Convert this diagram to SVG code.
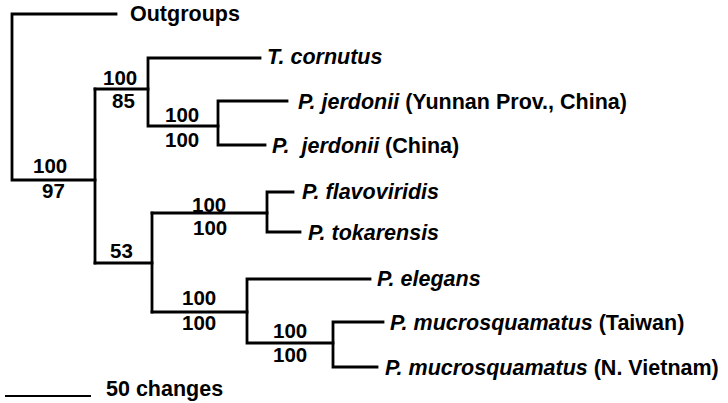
<svg xmlns="http://www.w3.org/2000/svg" width="728" height="403" viewBox="0 0 728 403">
<style>
.br{fill:none;stroke:#000;stroke-width:2.8;stroke-linecap:square;stroke-linejoin:miter}
text{font-family:"Liberation Sans",Arial,sans-serif;font-weight:bold;font-size:21.5px;fill:#000}
.sp{font-style:italic}
.n{font-size:20.5px}
</style>
<rect width="728" height="403" fill="#fff"/>
<g id="connectors">
<path class="br" d="M116,14 H12 V180 H95"/>
<path class="br" d="M95,89 V263"/>
<path class="br" d="M95,89 H148"/>
<path class="br" d="M260,58 H148 V126 H218"/>
<path class="br" d="M287,101 H218 V145 H265"/>
<path class="br" d="M95,263 H152"/>
<path class="br" d="M152,213 V312"/>
<path class="br" d="M152,213 H267"/>
<path class="br" d="M293,192 H267 V232 H300"/>
<path class="br" d="M152,312 H247"/>
<path class="br" d="M370,279 H247 V343 H333"/>
<path class="br" d="M383,322 H333 V367 H377"/>
<path class="br" d="M6,396 H90" style="stroke-width:2"/>
</g>
<g id="support">
<text class="n" x="33" y="173">100</text>
<text class="n" x="42" y="198">97</text>
<text class="n" x="103" y="85">100</text>
<text class="n" x="112" y="108">85</text>
<text class="n" x="165" y="122">100</text>
<text class="n" x="165" y="147">100</text>
<text class="n" x="110" y="258">53</text>
<text class="n" x="192" y="212">100</text>
<text class="n" x="193" y="235">100</text>
<text class="n" x="182" y="305">100</text>
<text class="n" x="182" y="330">100</text>
<text class="n" x="273" y="338">100</text>
<text class="n" x="273" y="362">100</text>
</g>
<g id="outgroups"><text x="130" y="21">Outgroups</text></g>
<g id="t-cornutus"><text x="267" y="64" class="sp">T. cornutus</text></g>
<g id="p-jerdonii-yunnan"><text x="298" y="109"><tspan class="sp">P. jerdonii</tspan> (Yunnan Prov., China)</text></g>
<g id="p-jerdonii-china"><text x="272" y="153"><tspan class="sp">P.&#160; jerdonii</tspan> (China)</text></g>
<g id="p-flavoviridis"><text x="302" y="199" class="sp">P. flavoviridis</text></g>
<g id="p-tokarensis"><text x="308" y="240" class="sp">P. tokarensis</text></g>
<g id="p-elegans"><text x="377" y="286" class="sp">P. elegans</text></g>
<g id="p-mucrosquamatus-taiwan"><text x="390" y="330"><tspan class="sp">P. mucrosquamatus</tspan> (Taiwan)</text></g>
<g id="p-mucrosquamatus-vietnam"><text x="385" y="375"><tspan class="sp">P. mucrosquamatus</tspan> (N. Vietnam)</text></g>
<g id="scale"><text x="106" y="396">50 changes</text></g>
</svg>
